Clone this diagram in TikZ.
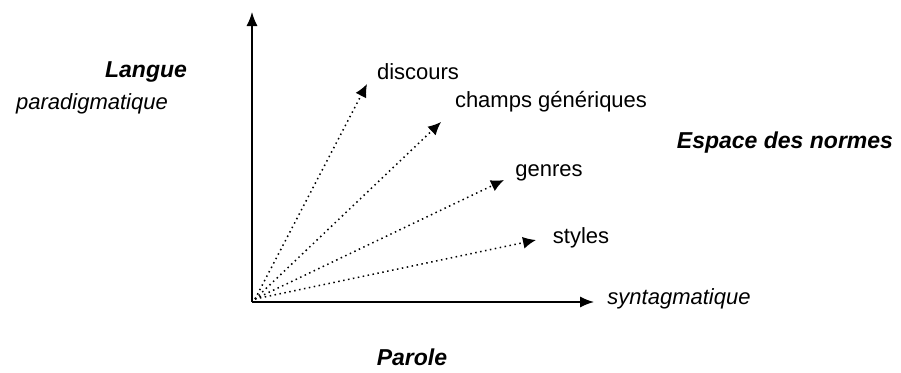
\documentclass[tikz,border=0pt]{standalone}
\usepackage{fontspec}
\setmainfont{Liberation Sans}
\usetikzlibrary{arrows.meta}

\tikzset{
  lbl/.style={inner sep=0pt, font=\fontsize{22}{24}\selectfont},
  axlbl/.style={lbl, font=\fontsize{22}{24}\selectfont\itshape},
  pole/.style={inner sep=0pt, font=\fontsize{23}{25}\selectfont\bfseries\itshape},
  axis/.style={line width=1.3pt, -{Latex[length=14pt,width=11pt]}},
  ray/.style={line width=1.5pt, dash pattern=on 1.5pt off 3.5pt, -{Latex[length=13pt,width=12pt]}}
}

\begin{document}
\begin{tikzpicture}[x=1pt,y=-1pt]
\useasboundingbox (0,0) rectangle (901,372);
% axes
\coordinate (O) at (252,302);
\coordinate (Ytop) at (252,12);
\coordinate (Xend) at (594,302);
\draw[axis] (O) -- (Ytop);
\draw[axis] (O) -- (Xend);

% dotted rays
\coordinate (S) at (255,299);
\coordinate (Tdisc) at (367,84);
\coordinate (Tchamps) at (441,122);
\coordinate (Tgenres) at (504,180);
\coordinate (Tstyles) at (536,240);
\draw[ray] (S) -- (Tdisc);
\draw[ray] (S) -- (Tchamps);
\draw[ray] (S) -- (Tgenres);
\draw[ray] (S) -- (Tstyles);

% labels
\node[lbl] (disc) at (418,72) {discours};
\node[lbl] (champs) at (551,102) {champs génériques};
\node[lbl] (genres) at (549,173) {genres};
\node[lbl] (styles) at (581,238) {styles};
\node[axlbl] (synt) at (679,299) {syntagmatique};
\node[axlbl] (para) at (92,104) {paradigmatique};

\node[pole] (langue) at (146,72) {Langue};
\node[pole] (espace) at (785,143) {Espace des normes};
\node[pole] (parole) at (412,357) {Parole};
\end{tikzpicture}
\end{document}
